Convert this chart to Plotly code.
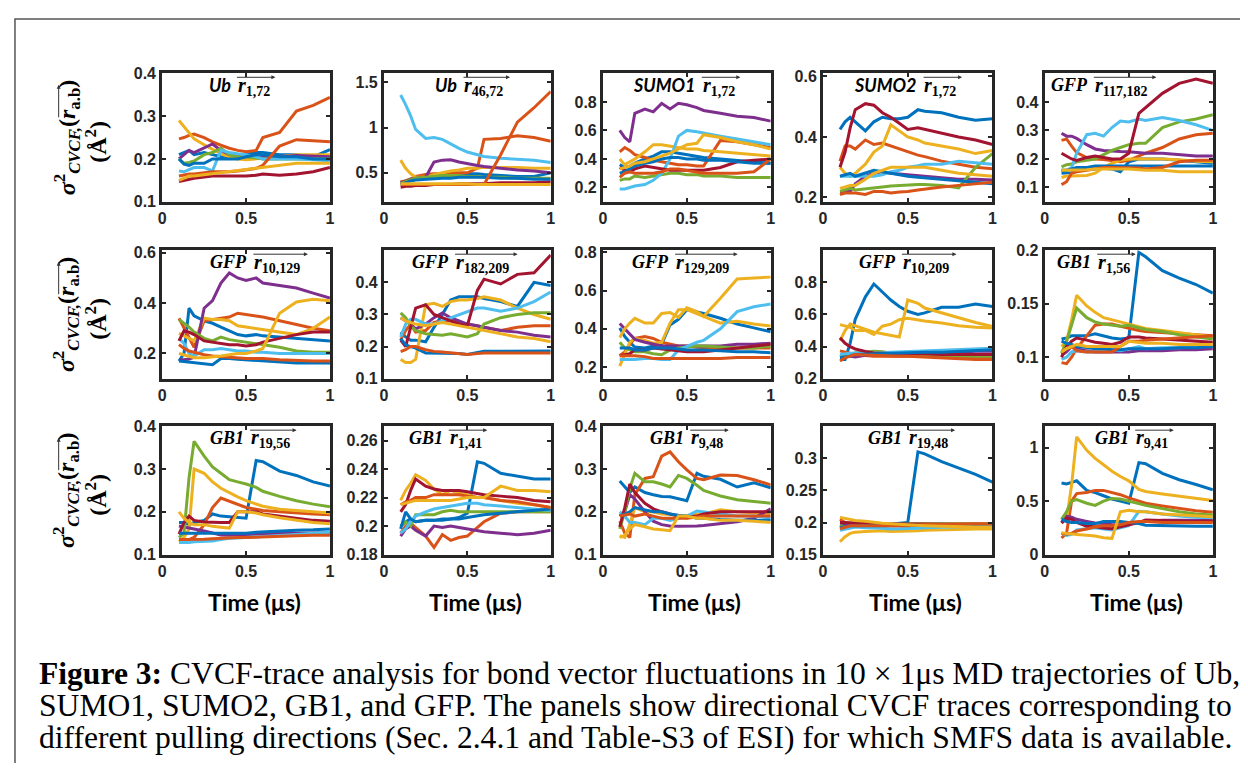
import plotly.graph_objects as go

# ---------------- data ----------------
T = [0.10, 0.13, 0.16, 0.19, 0.25, 0.30, 0.35, 0.40, 0.45, 0.50, 0.56, 0.60, 0.70, 0.80, 0.90, 1.00]

COLORS = ["#0072BD", "#D95319", "#EDB120", "#7E2F8E", "#77AC30",
          "#4DBEEE", "#A2142F", "#0072BD", "#D95319", "#EDB120"]

NAMES = ["Ub", "Ub", "SUMO1", "SUMO2", "GFP",
         "GFP", "GFP", "GFP", "GFP", "GB1",
         "GB1", "GB1", "GB1", "GB1", "GB1"]
SUBS = ["1,72", "46,72", "1,72", "1,72", "117,182",
        "10,129", "182,209", "129,209", "10,209", "1,56",
        "19,56", "1,41", "9,48", "19,48", "9,41"]
YRANGES = [[0.1, 0.4], [0.18, 1.6], [0.1, 1.0], [0.186, 0.61], [0.05, 0.5],
           [0.1, 0.61], [0.1, 0.5], [0.14, 0.81], [0.2, 1.0], [0.08, 0.2],
           [0.1, 0.4], [0.18, 0.27], [0.1, 0.4], [0.15, 0.35], [0.0, 1.2]]
YTICKS = [[0.1, 0.2, 0.3, 0.4], [0.5, 1, 1.5], [0.2, 0.4, 0.6, 0.8], [0.2, 0.4, 0.6], [0.1, 0.2, 0.3, 0.4],
          [0.2, 0.4, 0.6], [0.1, 0.2, 0.3, 0.4], [0.2, 0.4, 0.6, 0.8], [0.2, 0.4, 0.6, 0.8], [0.1, 0.15, 0.2],
          [0.1, 0.2, 0.3, 0.4], [0.18, 0.2, 0.22, 0.24, 0.26], [0.1, 0.2, 0.3, 0.4], [0.15, 0.2, 0.25, 0.3], [0, 0.5, 1]]
XTICKS = [0, 0.5, 1]

P01_UB_1_72 = [
    [0.21, 0.215, 0.22, 0.21, 0.215, 0.21, 0.205, 0.205, 0.21, 0.21, 0.215, 0.215, 0.21, 0.21, 0.205, 0.222],
    [0.247, 0.25, 0.255, 0.258, 0.25, 0.24, 0.232, 0.225, 0.22, 0.217, 0.22, 0.25, 0.262, 0.312, 0.325, 0.344],
    [0.29, 0.275, 0.26, 0.247, 0.233, 0.222, 0.212, 0.205, 0.2, 0.198, 0.2, 0.2, 0.205, 0.21, 0.21, 0.21],
    [0.2, 0.21, 0.22, 0.215, 0.225, 0.235, 0.22, 0.21, 0.208, 0.205, 0.205, 0.205, 0.205, 0.208, 0.207, 0.205],
    [0.2, 0.19, 0.192, 0.195, 0.21, 0.215, 0.225, 0.21, 0.205, 0.205, 0.202, 0.2, 0.2, 0.2, 0.2, 0.2],
    [0.172, 0.17, 0.175, 0.18, 0.18, 0.172, 0.22, 0.215, 0.212, 0.21, 0.205, 0.2, 0.2, 0.2, 0.198, 0.196],
    [0.147, 0.15, 0.152, 0.155, 0.158, 0.16, 0.16, 0.16, 0.16, 0.16, 0.162, 0.165, 0.162, 0.165, 0.17, 0.18],
    [0.2, 0.188, 0.185, 0.19, 0.19, 0.2, 0.2, 0.2, 0.2, 0.205, 0.21, 0.21, 0.205, 0.205, 0.2, 0.2],
    [0.16, 0.163, 0.165, 0.165, 0.168, 0.17, 0.17, 0.17, 0.172, 0.175, 0.178, 0.185, 0.23, 0.245, 0.243, 0.24],
    [0.15, 0.155, 0.16, 0.16, 0.163, 0.165, 0.168, 0.17, 0.172, 0.175, 0.178, 0.18, 0.185, 0.19, 0.19, 0.19],
]
P02_UB_46_72 = [
    [0.39, 0.41, 0.43, 0.45, 0.46, 0.47, 0.48, 0.49, 0.49, 0.49, 0.49, 0.48, 0.47, 0.46, 0.46, 0.5],
    [0.4, 0.41, 0.43, 0.46, 0.48, 0.49, 0.49, 0.5, 0.5, 0.5, 0.55, 0.87, 0.88, 0.91, 0.89, 0.85],
    [0.64, 0.55, 0.49, 0.45, 0.45, 0.48, 0.5, 0.52, 0.53, 0.55, 0.55, 0.56, 0.56, 0.56, 0.55, 0.55],
    [0.39, 0.4, 0.42, 0.44, 0.45, 0.62, 0.64, 0.645, 0.62, 0.6, 0.58, 0.57, 0.55, 0.53, 0.52, 0.5],
    [0.38, 0.4, 0.42, 0.44, 0.45, 0.46, 0.47, 0.47, 0.47, 0.46, 0.46, 0.45, 0.45, 0.44, 0.44, 0.44],
    [1.36, 1.255, 1.13, 0.98, 0.88, 0.89, 0.87, 0.82, 0.77, 0.73, 0.7, 0.68, 0.66, 0.65, 0.64, 0.615],
    [0.34, 0.35, 0.35, 0.36, 0.36, 0.37, 0.37, 0.37, 0.38, 0.38, 0.38, 0.38, 0.39, 0.39, 0.39, 0.4],
    [0.37, 0.39, 0.41, 0.42, 0.43, 0.44, 0.44, 0.44, 0.45, 0.45, 0.45, 0.45, 0.44, 0.44, 0.43, 0.43],
    [0.37, 0.37, 0.37, 0.37, 0.37, 0.37, 0.37, 0.37, 0.37, 0.37, 0.37, 0.37, 0.7, 1.06, 1.22, 1.4],
    [0.38, 0.38, 0.38, 0.38, 0.38, 0.38, 0.38, 0.38, 0.38, 0.38, 0.37, 0.37, 0.37, 0.37, 0.37, 0.37],
]
P03_SUMO1_1_72 = [
    [0.36, 0.34, 0.35, 0.37, 0.4, 0.42, 0.45, 0.45, 0.44, 0.43, 0.42, 0.41, 0.4, 0.39, 0.38, 0.37],
    [0.45, 0.48, 0.46, 0.43, 0.41, 0.39, 0.38, 0.37, 0.36, 0.36, 0.35, 0.35, 0.53, 0.52, 0.5, 0.48],
    [0.4, 0.36, 0.38, 0.4, 0.45, 0.5, 0.5, 0.49, 0.48, 0.47, 0.47, 0.46, 0.45, 0.44, 0.43, 0.42],
    [0.6, 0.55, 0.52, 0.72, 0.75, 0.73, 0.79, 0.75, 0.79, 0.78, 0.76, 0.74, 0.72, 0.7, 0.69, 0.665],
    [0.25, 0.26, 0.26, 0.28, 0.27, 0.28, 0.29, 0.3, 0.3, 0.29, 0.29, 0.28, 0.28, 0.27, 0.27, 0.27],
    [0.19, 0.19, 0.2, 0.21, 0.22, 0.25, 0.3, 0.4, 0.56, 0.6, 0.59, 0.58, 0.56, 0.54, 0.52, 0.5],
    [0.34, 0.32, 0.31, 0.33, 0.35, 0.34, 0.33, 0.32, 0.32, 0.32, 0.32, 0.32, 0.34, 0.38, 0.39, 0.4],
    [0.3, 0.31, 0.33, 0.35, 0.37, 0.38, 0.4, 0.41, 0.41, 0.4, 0.4, 0.39, 0.39, 0.38, 0.37, 0.37],
    [0.27, 0.3, 0.31, 0.3, 0.3, 0.3, 0.31, 0.33, 0.33, 0.32, 0.31, 0.3, 0.3, 0.3, 0.31, 0.4],
    [0.33, 0.34, 0.35, 0.37, 0.38, 0.4, 0.42, 0.44, 0.47, 0.5, 0.51, 0.57, 0.55, 0.52, 0.5, 0.47],
]
P04_SUMO2_1_72 = [
    [0.425, 0.45, 0.465, 0.45, 0.42, 0.45, 0.465, 0.46, 0.46, 0.465, 0.49, 0.485, 0.48, 0.465, 0.455, 0.46],
    [0.32, 0.37, 0.37, 0.36, 0.39, 0.375, 0.38, 0.37, 0.36, 0.35, 0.34, 0.335, 0.32, 0.31, 0.3, 0.295],
    [0.3, 0.28, 0.27, 0.28, 0.31, 0.35, 0.37, 0.44, 0.42, 0.4, 0.39, 0.38, 0.37, 0.36, 0.345, 0.355],
    [0.22, 0.22, 0.22, 0.245, 0.27, 0.28, 0.285, 0.28, 0.278, 0.275, 0.272, 0.27, 0.265, 0.26, 0.26, 0.258],
    [0.22, 0.225, 0.23, 0.225, 0.228, 0.232, 0.235, 0.238, 0.24, 0.242, 0.243, 0.243, 0.24, 0.232, 0.3, 0.345],
    [0.27, 0.27, 0.27, 0.27, 0.27, 0.27, 0.275, 0.285, 0.29, 0.3, 0.305, 0.31, 0.31, 0.32, 0.315, 0.31],
    [0.3, 0.35, 0.43, 0.49, 0.51, 0.505, 0.48, 0.465, 0.445, 0.425, 0.43, 0.425, 0.41, 0.4, 0.39, 0.375],
    [0.27, 0.275, 0.28, 0.27, 0.28, 0.29, 0.285, 0.28, 0.275, 0.27, 0.267, 0.265, 0.26, 0.255, 0.25, 0.245],
    [0.21, 0.215, 0.215, 0.215, 0.21, 0.22, 0.22, 0.215, 0.218, 0.22, 0.225, 0.228, 0.235, 0.24, 0.245, 0.25],
    [0.23, 0.235, 0.24, 0.24, 0.26, 0.28, 0.29, 0.3, 0.3, 0.3, 0.3, 0.3, 0.29, 0.28, 0.275, 0.27],
]
P05_GFP_117_182 = [
    [0.15, 0.15, 0.152, 0.16, 0.163, 0.165, 0.167, 0.165, 0.155, 0.19, 0.2, 0.2, 0.2, 0.195, 0.19, 0.185],
    [0.265, 0.27, 0.245, 0.222, 0.205, 0.2, 0.198, 0.195, 0.19, 0.195, 0.21, 0.22, 0.24, 0.27, 0.285, 0.29],
    [0.135, 0.14, 0.14, 0.14, 0.142, 0.15, 0.17, 0.185, 0.195, 0.2, 0.2, 0.2, 0.2, 0.197, 0.192, 0.19],
    [0.29, 0.28, 0.28, 0.272, 0.25, 0.235, 0.23, 0.227, 0.226, 0.225, 0.222, 0.22, 0.22, 0.215, 0.21, 0.21],
    [0.172, 0.18, 0.182, 0.19, 0.195, 0.2, 0.215, 0.23, 0.24, 0.25, 0.255, 0.255, 0.31, 0.33, 0.34, 0.355],
    [0.16, 0.16, 0.17, 0.22, 0.285, 0.29, 0.28, 0.31, 0.333, 0.33, 0.34, 0.335, 0.345, 0.335, 0.32, 0.3],
    [0.22, 0.21, 0.2, 0.195, 0.205, 0.21, 0.205, 0.2, 0.2, 0.22, 0.36, 0.38, 0.43, 0.465, 0.48, 0.465],
    [0.16, 0.16, 0.165, 0.17, 0.17, 0.175, 0.175, 0.175, 0.175, 0.175, 0.175, 0.175, 0.175, 0.175, 0.175, 0.175],
    [0.11, 0.12, 0.15, 0.155, 0.16, 0.165, 0.17, 0.17, 0.17, 0.17, 0.168, 0.165, 0.17, 0.19, 0.195, 0.195],
    [0.16, 0.16, 0.16, 0.16, 0.162, 0.165, 0.165, 0.165, 0.165, 0.165, 0.162, 0.16, 0.16, 0.155, 0.155, 0.155],
]
P06_GFP_10_129 = [
    [0.17, 0.2, 0.38, 0.35, 0.33, 0.32, 0.305, 0.29, 0.275, 0.27, 0.275, 0.27, 0.265, 0.26, 0.255, 0.25],
    [0.34, 0.3, 0.26, 0.225, 0.33, 0.335, 0.34, 0.345, 0.36, 0.355, 0.35, 0.345, 0.33, 0.315, 0.3, 0.29],
    [0.28, 0.27, 0.26, 0.25, 0.34, 0.335, 0.335, 0.33, 0.31, 0.305, 0.3, 0.295, 0.285, 0.275, 0.3, 0.345],
    [0.175, 0.175, 0.178, 0.185, 0.38, 0.41, 0.48, 0.52, 0.5, 0.49, 0.5, 0.48, 0.47, 0.46, 0.44, 0.42],
    [0.335, 0.32, 0.305, 0.285, 0.26, 0.25, 0.265, 0.255, 0.25, 0.245, 0.24, 0.235, 0.225, 0.21, 0.205, 0.205],
    [0.26, 0.24, 0.2, 0.19, 0.215, 0.215, 0.22, 0.215, 0.21, 0.21, 0.205, 0.205, 0.2, 0.2, 0.2, 0.2],
    [0.25, 0.29, 0.285, 0.275, 0.25, 0.245, 0.24, 0.235, 0.235, 0.23, 0.235, 0.245, 0.26, 0.275, 0.285, 0.285],
    [0.17, 0.168, 0.166, 0.165, 0.16, 0.155, 0.18, 0.18, 0.177, 0.175, 0.172, 0.17, 0.165, 0.162, 0.162, 0.162],
    [0.235, 0.22, 0.21, 0.205, 0.195, 0.19, 0.187, 0.185, 0.182, 0.18, 0.18, 0.18, 0.175, 0.172, 0.17, 0.17],
    [0.2, 0.195, 0.19, 0.183, 0.183, 0.185, 0.19, 0.195, 0.2, 0.2, 0.21, 0.22, 0.36, 0.405, 0.415, 0.41],
]
P07_GFP_182_209 = [
    [0.245, 0.23, 0.22, 0.22, 0.215, 0.26, 0.3, 0.345, 0.355, 0.355, 0.355, 0.35, 0.34, 0.325, 0.4, 0.39],
    [0.22, 0.25, 0.27, 0.245, 0.25, 0.275, 0.28, 0.28, 0.275, 0.27, 0.265, 0.26, 0.25, 0.26, 0.265, 0.265],
    [0.16, 0.15, 0.15, 0.16, 0.33, 0.335, 0.325, 0.34, 0.345, 0.345, 0.35, 0.355, 0.345, 0.32, 0.3, 0.285],
    [0.29, 0.28, 0.27, 0.255, 0.27, 0.29, 0.305, 0.29, 0.28, 0.27, 0.265, 0.26, 0.25, 0.245, 0.235, 0.23],
    [0.305, 0.29, 0.265, 0.25, 0.24, 0.237, 0.235, 0.24, 0.235, 0.23, 0.24, 0.27, 0.29, 0.3, 0.305, 0.305],
    [0.23, 0.27, 0.285, 0.285, 0.27, 0.27, 0.28, 0.29, 0.3, 0.31, 0.32, 0.32, 0.31, 0.32, 0.34, 0.37],
    [0.22, 0.2, 0.26, 0.32, 0.33, 0.3, 0.29, 0.28, 0.27, 0.265, 0.375, 0.41, 0.395, 0.425, 0.43, 0.485],
    [0.225, 0.205, 0.2, 0.195, 0.18, 0.18, 0.18, 0.18, 0.178, 0.175, 0.18, 0.185, 0.185, 0.185, 0.185, 0.186],
    [0.184, 0.19, 0.2, 0.2, 0.19, 0.185, 0.183, 0.18, 0.178, 0.175, 0.178, 0.18, 0.18, 0.18, 0.18, 0.18],
    [0.29, 0.28, 0.275, 0.27, 0.265, 0.27, 0.275, 0.27, 0.265, 0.26, 0.255, 0.25, 0.24, 0.23, 0.225, 0.215],
]
P08_GFP_129_209 = [
    [0.405, 0.36, 0.33, 0.305, 0.3, 0.31, 0.32, 0.42, 0.45, 0.5, 0.49, 0.48, 0.455, 0.425, 0.405, 0.385],
    [0.26, 0.28, 0.32, 0.35, 0.36, 0.35, 0.33, 0.32, 0.31, 0.31, 0.305, 0.3, 0.3, 0.3, 0.3, 0.3],
    [0.205, 0.264, 0.33, 0.35, 0.34, 0.325, 0.33, 0.43, 0.5, 0.5, 0.48, 0.465, 0.43, 0.44, 0.425, 0.415],
    [0.428, 0.4, 0.37, 0.345, 0.33, 0.32, 0.31, 0.31, 0.31, 0.31, 0.31, 0.31, 0.31, 0.32, 0.32, 0.325],
    [0.33, 0.3, 0.29, 0.28, 0.28, 0.27, 0.265, 0.29, 0.3, 0.305, 0.31, 0.31, 0.305, 0.3, 0.3, 0.31],
    [0.24, 0.24, 0.24, 0.24, 0.245, 0.245, 0.24, 0.24, 0.29, 0.31, 0.33, 0.34, 0.4, 0.49, 0.515, 0.53],
    [0.26, 0.265, 0.27, 0.29, 0.29, 0.3, 0.295, 0.29, 0.285, 0.28, 0.28, 0.28, 0.29, 0.3, 0.31, 0.32],
    [0.3, 0.3, 0.3, 0.29, 0.29, 0.3, 0.3, 0.3, 0.295, 0.29, 0.29, 0.29, 0.285, 0.28, 0.28, 0.275],
    [0.26, 0.26, 0.26, 0.26, 0.255, 0.245, 0.245, 0.245, 0.245, 0.245, 0.245, 0.245, 0.245, 0.25, 0.25, 0.25],
    [0.355, 0.4, 0.43, 0.455, 0.43, 0.43, 0.48, 0.485, 0.46, 0.51, 0.49, 0.465, 0.56, 0.66, 0.665, 0.67],
]
P09_GFP_10_209 = [
    [0.32, 0.32, 0.42, 0.57, 0.71, 0.79, 0.74, 0.69, 0.65, 0.62, 0.6, 0.61, 0.645, 0.645, 0.665, 0.65],
    [0.373, 0.365, 0.36, 0.35, 0.345, 0.34, 0.34, 0.34, 0.34, 0.34, 0.34, 0.34, 0.335, 0.33, 0.33, 0.325],
    [0.435, 0.5, 0.54, 0.53, 0.51, 0.49, 0.48, 0.47, 0.46, 0.69, 0.67, 0.64, 0.61, 0.58, 0.55, 0.525],
    [0.35, 0.345, 0.34, 0.335, 0.345, 0.35, 0.35, 0.35, 0.352, 0.355, 0.358, 0.36, 0.36, 0.365, 0.37, 0.37],
    [0.34, 0.345, 0.35, 0.36, 0.365, 0.37, 0.368, 0.36, 0.358, 0.355, 0.352, 0.35, 0.345, 0.34, 0.34, 0.34],
    [0.35, 0.355, 0.358, 0.36, 0.36, 0.36, 0.362, 0.365, 0.367, 0.37, 0.372, 0.375, 0.38, 0.385, 0.385, 0.39],
    [0.455, 0.42, 0.4, 0.385, 0.37, 0.36, 0.358, 0.355, 0.355, 0.355, 0.355, 0.355, 0.35, 0.35, 0.35, 0.35],
    [0.33, 0.335, 0.34, 0.35, 0.352, 0.355, 0.357, 0.36, 0.36, 0.36, 0.362, 0.365, 0.365, 0.37, 0.375, 0.38],
    [0.31, 0.33, 0.34, 0.35, 0.348, 0.345, 0.342, 0.34, 0.34, 0.34, 0.337, 0.335, 0.33, 0.325, 0.32, 0.32],
    [0.537, 0.53, 0.52, 0.5, 0.5, 0.475, 0.527, 0.54, 0.567, 0.577, 0.565, 0.56, 0.547, 0.53, 0.52, 0.516],
]
P10_GB1_1_56 = [
    [0.117, 0.118, 0.12, 0.12, 0.12, 0.122, 0.12, 0.118, 0.117, 0.118, 0.198, 0.194, 0.181, 0.174, 0.168, 0.16],
    [0.095, 0.094, 0.1, 0.108, 0.12, 0.13, 0.131, 0.131, 0.129, 0.127, 0.125, 0.124, 0.123, 0.122, 0.121, 0.12],
    [0.11, 0.115, 0.135, 0.158, 0.148, 0.142, 0.137, 0.135, 0.133, 0.131, 0.129, 0.127, 0.125, 0.123, 0.121, 0.119],
    [0.102, 0.105, 0.11, 0.108, 0.106, 0.105, 0.105, 0.105, 0.105, 0.105, 0.106, 0.106, 0.106, 0.107, 0.107, 0.108],
    [0.104, 0.115, 0.13, 0.146, 0.137, 0.133, 0.131, 0.13, 0.129, 0.13, 0.128, 0.126, 0.124, 0.121, 0.119, 0.117],
    [0.098, 0.1, 0.105, 0.106, 0.105, 0.105, 0.106, 0.107, 0.106, 0.108, 0.11, 0.108, 0.109, 0.109, 0.11, 0.11],
    [0.1, 0.11, 0.115, 0.118, 0.116, 0.114, 0.113, 0.112, 0.114, 0.119, 0.119, 0.118, 0.117, 0.116, 0.115, 0.114],
    [0.115, 0.113, 0.112, 0.11, 0.109, 0.108, 0.108, 0.107, 0.107, 0.108, 0.108, 0.108, 0.108, 0.109, 0.109, 0.11],
    [0.105, 0.108, 0.11, 0.106, 0.105, 0.105, 0.105, 0.105, 0.11, 0.115, 0.115, 0.116, 0.117, 0.118, 0.119, 0.12],
    [0.105, 0.108, 0.11, 0.112, 0.11, 0.11, 0.11, 0.11, 0.11, 0.115, 0.114, 0.113, 0.113, 0.112, 0.112, 0.112],
]
P11_GB1_19_56 = [
    [0.175, 0.175, 0.17, 0.175, 0.18, 0.195, 0.19, 0.188, 0.186, 0.185, 0.32, 0.317, 0.295, 0.285, 0.27, 0.26],
    [0.13, 0.13, 0.135, 0.14, 0.17, 0.21, 0.232, 0.225, 0.218, 0.21, 0.206, 0.203, 0.2, 0.197, 0.195, 0.193],
    [0.13, 0.14, 0.16, 0.3, 0.29, 0.27, 0.255, 0.244, 0.235, 0.226, 0.218, 0.213, 0.206, 0.203, 0.2, 0.197],
    [0.167, 0.165, 0.162, 0.16, 0.155, 0.15, 0.146, 0.145, 0.146, 0.147, 0.148, 0.148, 0.15, 0.15, 0.15, 0.151],
    [0.14, 0.15, 0.28, 0.365, 0.33, 0.305, 0.29, 0.275, 0.27, 0.265, 0.257, 0.248, 0.236, 0.226, 0.218, 0.212],
    [0.128, 0.128, 0.128, 0.13, 0.131, 0.132, 0.135, 0.138, 0.139, 0.14, 0.141, 0.142, 0.145, 0.147, 0.15, 0.152],
    [0.148, 0.175, 0.19, 0.18, 0.176, 0.175, 0.175, 0.175, 0.2, 0.2, 0.2, 0.195, 0.19, 0.185, 0.18, 0.178],
    [0.15, 0.15, 0.15, 0.15, 0.15, 0.15, 0.15, 0.15, 0.15, 0.15, 0.152, 0.153, 0.155, 0.157, 0.158, 0.16],
    [0.135, 0.135, 0.135, 0.135, 0.136, 0.137, 0.138, 0.14, 0.14, 0.14, 0.141, 0.142, 0.143, 0.144, 0.145, 0.145],
    [0.2, 0.185, 0.175, 0.17, 0.17, 0.166, 0.164, 0.162, 0.2, 0.2, 0.197, 0.193, 0.186, 0.18, 0.175, 0.172],
]
P12_GB1_1_41 = [
    [0.2, 0.203, 0.205, 0.203, 0.204, 0.204, 0.205, 0.205, 0.206, 0.209, 0.245, 0.244, 0.237, 0.235, 0.233, 0.233],
    [0.195, 0.2, 0.202, 0.199, 0.193, 0.185, 0.194, 0.19, 0.192, 0.193, 0.199, 0.203, 0.209, 0.21, 0.21, 0.21],
    [0.218, 0.225, 0.23, 0.236, 0.232, 0.226, 0.222, 0.225, 0.223, 0.222, 0.22, 0.22, 0.218, 0.216, 0.215, 0.213],
    [0.193, 0.198, 0.2, 0.197, 0.193, 0.2, 0.199, 0.2, 0.199, 0.198, 0.197, 0.196, 0.195, 0.194, 0.195, 0.197],
    [0.2, 0.203, 0.2, 0.208, 0.208, 0.208, 0.21, 0.211, 0.21, 0.21, 0.21, 0.21, 0.21, 0.21, 0.21, 0.21],
    [0.195, 0.198, 0.203, 0.207, 0.21, 0.212, 0.213, 0.214, 0.215, 0.216, 0.216, 0.215, 0.214, 0.213, 0.212, 0.211],
    [0.21, 0.215, 0.225, 0.233, 0.228, 0.226, 0.225, 0.225, 0.225, 0.224, 0.223, 0.222, 0.221, 0.22, 0.218, 0.217],
    [0.198, 0.21, 0.205, 0.203, 0.204, 0.204, 0.204, 0.205, 0.205, 0.206, 0.207, 0.208, 0.209, 0.21, 0.211, 0.212],
    [0.215, 0.217, 0.218, 0.22, 0.22, 0.222, 0.222, 0.222, 0.222, 0.221, 0.22, 0.22, 0.218, 0.217, 0.215, 0.213],
    [0.215, 0.216, 0.217, 0.218, 0.218, 0.218, 0.218, 0.218, 0.219, 0.22, 0.22, 0.22, 0.228, 0.225, 0.225, 0.224],
]
P13_GB1_9_48 = [
    [0.272, 0.258, 0.245, 0.258, 0.245, 0.24, 0.236, 0.235, 0.23, 0.226, 0.29, 0.283, 0.276, 0.258, 0.268, 0.256],
    [0.178, 0.15, 0.14, 0.24, 0.278, 0.282, 0.33, 0.34, 0.317, 0.298, 0.278, 0.275, 0.286, 0.285, 0.275, 0.263],
    [0.144, 0.14, 0.17, 0.21, 0.2, 0.2, 0.195, 0.194, 0.19, 0.185, 0.195, 0.195, 0.205, 0.2, 0.198, 0.196],
    [0.19, 0.2, 0.24, 0.23, 0.2, 0.178, 0.17, 0.167, 0.166, 0.166, 0.167, 0.168, 0.172, 0.177, 0.185, 0.207],
    [0.16, 0.2, 0.255, 0.29, 0.27, 0.27, 0.265, 0.258, 0.285, 0.278, 0.262, 0.25, 0.237, 0.228, 0.224, 0.22],
    [0.2, 0.19, 0.175, 0.175, 0.17, 0.185, 0.185, 0.18, 0.185, 0.19, 0.202, 0.2, 0.195, 0.19, 0.19, 0.186],
    [0.165, 0.21, 0.265, 0.245, 0.22, 0.207, 0.2, 0.195, 0.19, 0.188, 0.19, 0.195, 0.2, 0.2, 0.2, 0.2],
    [0.19, 0.195, 0.2, 0.21, 0.205, 0.2, 0.2, 0.195, 0.192, 0.19, 0.185, 0.185, 0.182, 0.18, 0.18, 0.18],
    [0.19, 0.193, 0.195, 0.19, 0.195, 0.19, 0.185, 0.185, 0.185, 0.185, 0.188, 0.19, 0.19, 0.19, 0.19, 0.19],
    [0.14, 0.145, 0.16, 0.17, 0.165, 0.16, 0.158, 0.156, 0.19, 0.19, 0.185, 0.185, 0.18, 0.18, 0.178, 0.175],
]
P14_GB1_19_48 = [
    [0.196, 0.194, 0.193, 0.195, 0.196, 0.196, 0.196, 0.197, 0.198, 0.2, 0.31, 0.307, 0.295, 0.285, 0.275, 0.263],
    [0.205, 0.2, 0.198, 0.197, 0.196, 0.195, 0.195, 0.195, 0.194, 0.194, 0.195, 0.195, 0.196, 0.196, 0.197, 0.197],
    [0.17, 0.178, 0.183, 0.185, 0.186, 0.187, 0.187, 0.186, 0.186, 0.187, 0.187, 0.188, 0.189, 0.19, 0.19, 0.19],
    [0.198, 0.197, 0.196, 0.196, 0.196, 0.196, 0.196, 0.196, 0.196, 0.196, 0.196, 0.197, 0.197, 0.197, 0.197, 0.197],
    [0.195, 0.193, 0.194, 0.195, 0.196, 0.196, 0.197, 0.197, 0.197, 0.198, 0.198, 0.198, 0.198, 0.198, 0.198, 0.198],
    [0.188, 0.19, 0.192, 0.193, 0.192, 0.192, 0.191, 0.19, 0.19, 0.19, 0.191, 0.192, 0.193, 0.194, 0.195, 0.195],
    [0.2, 0.2, 0.2, 0.2, 0.199, 0.199, 0.198, 0.198, 0.198, 0.198, 0.197, 0.197, 0.197, 0.197, 0.197, 0.197],
    [0.192, 0.194, 0.195, 0.195, 0.195, 0.196, 0.196, 0.196, 0.196, 0.196, 0.196, 0.196, 0.196, 0.196, 0.196, 0.196],
    [0.19, 0.192, 0.195, 0.195, 0.195, 0.194, 0.194, 0.194, 0.195, 0.195, 0.196, 0.197, 0.197, 0.198, 0.198, 0.198],
    [0.208, 0.206, 0.205, 0.203, 0.202, 0.2, 0.199, 0.198, 0.197, 0.196, 0.195, 0.195, 0.194, 0.193, 0.193, 0.193],
]
P15_GB1_9_41 = [
    [0.67, 0.66, 0.675, 0.69, 0.6, 0.58, 0.55, 0.52, 0.5, 0.48, 0.86, 0.85, 0.76, 0.7, 0.655, 0.605],
    [0.155, 0.2, 0.5, 0.57, 0.58, 0.6, 0.6, 0.58, 0.56, 0.53, 0.5, 0.48, 0.455, 0.43, 0.41, 0.395],
    [0.31, 0.33, 0.65, 1.1, 0.975, 0.9, 0.84, 0.78, 0.73, 0.69, 0.61, 0.59, 0.567, 0.545, 0.525, 0.506],
    [0.3, 0.36, 0.35, 0.33, 0.31, 0.295, 0.29, 0.28, 0.28, 0.29, 0.3, 0.31, 0.32, 0.32, 0.32, 0.32],
    [0.33, 0.4, 0.5, 0.515, 0.48, 0.46, 0.5, 0.525, 0.52, 0.5, 0.47, 0.46, 0.43, 0.4, 0.38, 0.37],
    [0.2, 0.18, 0.19, 0.23, 0.242, 0.25, 0.24, 0.23, 0.25, 0.27, 0.405, 0.4, 0.38, 0.36, 0.35, 0.345],
    [0.294, 0.34, 0.33, 0.3, 0.264, 0.26, 0.248, 0.242, 0.26, 0.278, 0.3, 0.324, 0.32, 0.315, 0.31, 0.315],
    [0.33, 0.31, 0.3, 0.3, 0.29, 0.29, 0.31, 0.31, 0.31, 0.3, 0.29, 0.275, 0.27, 0.265, 0.265, 0.265],
    [0.2, 0.19, 0.2, 0.22, 0.24, 0.26, 0.27, 0.27, 0.28, 0.3, 0.31, 0.31, 0.3, 0.3, 0.3, 0.3],
    [0.203, 0.2, 0.195, 0.188, 0.18, 0.173, 0.158, 0.152, 0.4, 0.415, 0.4, 0.4, 0.38, 0.37, 0.36, 0.355],
]

PANEL_DATA = [P01_UB_1_72, P02_UB_46_72, P03_SUMO1_1_72, P04_SUMO2_1_72, P05_GFP_117_182,
              P06_GFP_10_129, P07_GFP_182_209, P08_GFP_129_209, P09_GFP_10_209, P10_GB1_1_56,
              P11_GB1_19_56, P12_GB1_1_41, P13_GB1_9_48, P14_GB1_19_48, P15_GB1_9_41]

CAPTION = [
    "<b>Figure 3:</b> CVCF-trace analysis for bond vector fluctuations in 10 × 1μs MD trajectories of Ub,",
    "SUMO1, SUMO2, GB1, and GFP. The panels show directional CVCF traces corresponding to",
    "different pulling directions (Sec. 2.4.1 and Table-S3 of ESI) for which SMFS data is available.",
]

# ---------------- layout geometry ----------------
# The page adds an 8 px body margin, so the figure is sized to fill the
# 1248x771 window exactly; positions below are in window pixels.
WIN_W, WIN_H = 1248, 771
PAGE_MARGIN = 8
W, H = WIN_W - 2 * PAGE_MARGIN, WIN_H - 2 * PAGE_MARGIN

COL_X = [(159.3, 328.3), (382.7, 550.7), (603.3, 772.3), (825.0, 995.7), (1048.3, 1217.7)]
ROW_Y = [(66.7, 198.0), (247.7, 379.0), (427.7, 559.0)]
R_START = [0.438, 0.47, 0.582, 0.586, 0.286,
           0.537, 0.42, 0.424, 0.459, 0.305,
           0.517, 0.381, 0.513, 0.498, 0.531]

INK = "#262626"
TICKFONT = dict(family="Liberation Sans, Arial, sans-serif", size=16, color=INK, weight="bold")


def px(x):
    return (x - PAGE_MARGIN) / W


def py(y):
    return 1 - (y - PAGE_MARGIN) / H


fig = go.Figure()
annotations = []

for i in range(15):
    r, c = divmod(i, 5)
    sfx = "" if i == 0 else str(i + 1)
    for k, ys in enumerate(PANEL_DATA[i]):
        fig.add_trace(go.Scatter(x=T, y=ys, mode="lines",
                                 line=dict(color=COLORS[k], width=3),
                                 xaxis="x" + sfx, yaxis="y" + sfx,
                                 showlegend=False, hoverinfo="skip"))
    x0, x1 = COL_X[c]
    y0, y1 = ROW_Y[r]
    common = dict(showline=True, linewidth=3, linecolor=INK, mirror="ticks",
                  ticks="inside", ticklen=4, tickwidth=1.5, tickcolor=INK,
                  showgrid=False, zeroline=False, tickfont=TICKFONT, fixedrange=True)
    fig.layout["xaxis" + sfx] = dict(domain=[px(x0), px(x1)], anchor="y" + sfx,
                                     range=[0, 1], tickvals=XTICKS,
                                     ticktext=["0", "0.5", "1"], **common)
    fig.layout["yaxis" + sfx] = dict(domain=[py(y1), py(y0)], anchor="x" + sfx,
                                     range=YRANGES[i], tickvals=YTICKS[i], **common)

    # panel title (name + r vector with subscript)
    rx = x0 + R_START[i] * (x1 - x0)
    ty = y0 + 12
    name = NAMES[i]
    if name in ("Ub", "SUMO1", "SUMO2"):
        nfont = dict(family="Lato, Open Sans, sans-serif", size=18, color="black")
    else:
        nfont = dict(family="Liberation Serif, serif", size=18, color="black")
    annotations.append(dict(x=px(rx - 3), y=py(ty), xref="paper", yref="paper",
                            text="<b><i>%s</i></b>" % name, showarrow=False,
                            xanchor="right", yanchor="middle", font=nfont))
    annotations.append(dict(x=px(rx), y=py(ty + 1), xref="paper", yref="paper",
                            text="<b><i>r</i><sub>%s</sub></b>" % SUBS[i],
                            showarrow=False, xanchor="left", yanchor="middle",
                            font=dict(family="Liberation Serif, serif", size=20, color="black")))
    w = 8 + 8 * len(SUBS[i])
    annotations.append(dict(x=px(rx + w), y=py(ty - 8), xref="paper", yref="paper",
                            ax=-w, ay=0, text="", showarrow=True, arrowhead=2,
                            arrowsize=0.8, arrowwidth=1, arrowcolor="#333333"))

    # x label on bottom row
    if r == 2:
        annotations.append(dict(x=px((x0 + x1) / 2 + 8), y=py(607), xref="paper", yref="paper",
                                text="<b>Time (μs)</b>", showarrow=False,
                                xanchor="center", yanchor="middle",
                                font=dict(family="Lato, Open Sans, sans-serif", size=23, color="black")))

# y labels (left column)
for r in range(3):
    y0, y1 = ROW_Y[r]
    cy = (y0 + y1) / 2
    annotations.append(dict(x=px(63), y=py(cy), xref="paper", yref="paper", textangle=-90,
                            text="<b><i>σ</i><sup>2</sup><sub><i>CVCF,</i></sub>(<i>r</i><sub>a.b</sub>)</b>",
                            showarrow=False, xanchor="center", yanchor="middle",
                            font=dict(family="Liberation Serif, serif", size=24, color="black")))
    annotations.append(dict(x=px(93), y=py(cy + 4), xref="paper", yref="paper", textangle=-90,
                            text="<b>(Å<sup>2</sup>)</b>", showarrow=False,
                            xanchor="center", yanchor="middle",
                            font=dict(family="Liberation Serif, serif", size=24, color="black")))
    # vector arrow over r_a.b (rotated text -> vertical arrow pointing up)
    annotations.append(dict(x=px(55), y=py(cy - 54), xref="paper", yref="paper",
                            ax=0, ay=34, text="", showarrow=True, arrowhead=2,
                            arrowsize=0.8, arrowwidth=1, arrowcolor="#333333"))

# caption
for j, line in enumerate(CAPTION):
    annotations.append(dict(x=px(33), y=py(681 + 32.5 * j), xref="paper", yref="paper",
                            text=line, showarrow=False, xanchor="left", yanchor="middle",
                            font=dict(family="Liberation Serif, Times New Roman, serif",
                                      size=31.6, color="black")))

fig.update_layout(
    width=W, height=H,
    margin=dict(l=0, r=0, t=0, b=0),
    paper_bgcolor="white", plot_bgcolor="white",
    annotations=annotations,
    shapes=[dict(type="rect", xref="paper", yref="paper",
                 x0=px(11), y0=py(11), x1=1.02, y1=-0.02,
                 line=dict(color="#555555", width=1.5))],
)

fig.write_html("out.html", config={"displayModeBar": False})
